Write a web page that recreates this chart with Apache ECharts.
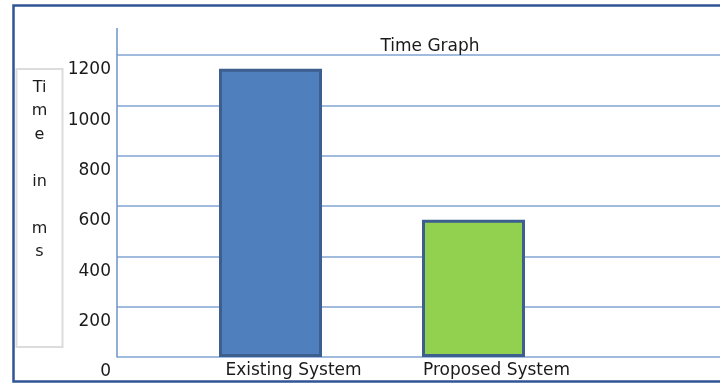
<!DOCTYPE html>
<html>
<head>
<meta charset="utf-8">
<title>Time Graph</title>
<script src="https://cdn.jsdelivr.net/npm/echarts@6/dist/echarts.min.js"></script>
<style>
    html, body { margin: 0; padding: 0; background: #fff; }
    #timeChart { width: 720px; height: 383px; }
</style>
</head>
<body>
<div id="timeChart"></div>
<script>
    // chart data
    var categories = ['Existing System', 'Proposed System']
    var timeValues = [1145, 545]
    var barColors = ['#4f7fbd', '#92d050']
    var yTicks = { min: 0, max: 1200, interval: 200 }
    var chartTitle = 'Time Graph'
    var axisTitle = 'Ti\nm\ne\n\nin\n\nm\ns'

    var font = 'DejaVu Sans'
    var myChart = echarts.init(document.getElementById('timeChart'))

    var barData = []
    for (var i in timeValues) {
        barData.push({
            value: timeValues[i],
            itemStyle: { color: barColors[i] }
        })
    }

    var option = {
        backgroundColor: '#ffffff',
        animation: false,
        title: {
            text: chartTitle,
            left: 425,
            top: 33,
            textAlign: 'center',
            textStyle: { fontFamily: font, fontSize: 17, fontWeight: 'normal', color: '#1a1a1a' }
        },
        grid: [
            { left: 117, right: 0, top: 55, bottom: 26, outerBoundsMode: 'none' },   // gridlines + y axis
            { left: 169, width: 406, top: 55, bottom: 26, outerBoundsMode: 'none' }  // bars
        ],
        xAxis: [
            { type: 'value', gridIndex: 0, show: false, min: 0, max: 1 },
            {
                type: 'category',
                gridIndex: 1,
                data: categories,
                axisLine: { show: false },
                axisTick: { show: false },
                axisLabel: {
                    margin: 5,
                    padding: [0, 0, 0, 46],
                    fontFamily: font,
                    fontSize: 17,
                    color: '#1a1a1a'
                }
            }
        ],
        yAxis: [
            {
                type: 'value',
                gridIndex: 0,
                min: yTicks.min,
                max: yTicks.max,
                interval: yTicks.interval,
                axisLine: { show: true, lineStyle: { color: '#6f93c9', width: 1.5 } },
                axisTick: { show: false },
                axisLabel: {
                    margin: 6,
                    showMinLabel: true,
                    showMaxLabel: true,
                    hideOverlap: false,
                    // labels sit below their gridlines in the original
                    formatter: function (v) { return '\n\n' + v },
                    lineHeight: 15,
                    verticalAlign: 'middle',
                    fontFamily: font,
                    fontSize: 17,
                    color: '#1a1a1a'
                },
                splitLine: { show: true, lineStyle: { color: '#82a4d4', width: 1.5 } }
            },
            {
                type: 'value',
                gridIndex: 1,
                min: yTicks.min,
                max: yTicks.max,
                show: false
            }
        ],
        graphic: [
            {
                type: 'rect',
                shape: { x: 13.5, y: 5.5, width: 720, height: 376 },
                style: { fill: 'none', stroke: '#2f5597', lineWidth: 2.5 },
                silent: true
            },
            {
                type: 'line',
                shape: { x1: 117, y1: 28, x2: 117, y2: 55 },
                style: { stroke: '#6f93c9', lineWidth: 1.5 },
                silent: true
            },
            {
                type: 'rect',
                shape: { x: 16.5, y: 69, width: 46, height: 278 },
                style: { fill: '#fff', stroke: '#dcdcdc', lineWidth: 2 },
                silent: true
            },
            {
                type: 'text',
                x: 39.5,
                y: 76,
                style: {
                    text: axisTitle,
                    align: 'center',
                    verticalAlign: 'top',
                    lineHeight: 23.5,
                    font: '16px "DejaVu Sans"',
                    fill: '#1a1a1a'
                },
                silent: true
            }
        ],
        series: [
            {
                name: chartTitle,
                type: 'bar',
                xAxisIndex: 1,
                yAxisIndex: 1,
                barWidth: 103,
                data: barData,
                itemStyle: { borderColor: '#3d5f8f', borderWidth: 3 }
            }
        ]
    }

    myChart.setOption(option, true)
</script>
</body>
</html>
